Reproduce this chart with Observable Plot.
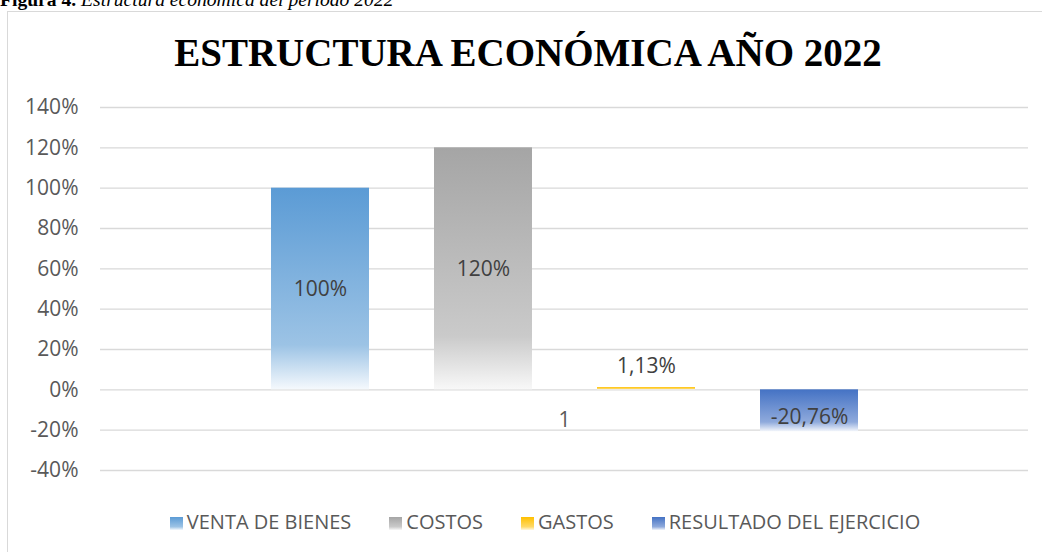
<!DOCTYPE html>
<html>
<head>
<meta charset="utf-8">
<script src="https://cdn.jsdelivr.net/npm/d3@7"></script>
<script src="https://cdn.jsdelivr.net/npm/@observablehq/plot@0.6"></script>
<style>
  html, body { margin: 0; padding: 0; background: #fff; width: 1042px; height: 552px; overflow: hidden; }
  #wrap { position: relative; width: 1042px; height: 552px; overflow: hidden; }
  #frame { position: absolute; left: 7px; top: 11px; width: 1100px; height: 600px; border: 1px solid #d9d9d9; box-sizing: border-box; }
  #caption { position: absolute; left: 0; top: -11px; font-family: "Liberation Serif", "Times New Roman", serif; font-size: 19.6px; line-height: 22px; white-space: nowrap; color: #000; }
  #title { position: absolute; left: 0; width: 1056px; top: 33px; text-align: center; font-family: "Liberation Serif", "Times New Roman", serif; font-weight: bold; font-size: 39px; line-height: 39px; color: #000; white-space: nowrap; }
  #chart { position: absolute; left: 0; top: 0; }
  #legend { position: absolute; left: 0; width: 1090px; top: 512px; display: flex; justify-content: center; gap: 38px; font-family: "Open Sans", sans-serif; font-size: 20px; line-height: 20px; color: #595959; white-space: nowrap; }
  .item { display: flex; align-items: center; }
  .sw { width: 13px; height: 13px; margin-right: 4px; margin-top: 2px; }
</style>
</head>
<body>
<div id="wrap">
  <div id="frame"></div>
  <div id="caption"><b>Figura 4.</b> <i>Estructura económica del periodo 2022</i></div>
  <div id="chart"></div>
  <div id="title"></div>
  <div id="legend"></div>
</div>
<script>
// ---- data ----
const chartTitle = "ESTRUCTURA ECONÓMICA AÑO 2022";
const series = ["VENTA DE BIENES", "COSTOS", "GASTOS", "RESULTADO DEL EJERCICIO"];
const values = [100, 120, 1.13, -20.76];
const categories = ["1"];
const yTicks = [-40, -20, 0, 20, 40, 60, 80, 100, 120, 140];

// ---- styles (gradient colours per series) ----
const gradTop = ["#5b9bd5", "#a5a5a5", "#ffc000", "#4472c4"];
const gradMid = ["#9cc3e5", "#cacaca", "#ffd966", "#8faadc"];
const gradEnd = ["#f5f9fd", "#f8f8f8", "#fff8e1", "#f2f5fb"];

const data = series.map((s, i) => ({s, v: values[i]}));
const gradIds = series.map((_, i) => "grad" + i);

const fmtLabel = v => (Number.isInteger(v) ? String(v) : v.toFixed(2).replace(".", ",")) + "%";
const fmtTick = d => String(d) + "%";

document.getElementById("title").textContent = chartTitle;

const plot = Plot.plot({
  width: 1042,
  height: 552,
  marginLeft: 100,
  marginRight: 14,
  marginTop: 107,
  marginBottom: 82,
  style: {fontFamily: "Open Sans, sans-serif", fontSize: "21px", color: "#595959", background: "transparent"},
  x: {domain: series, paddingInner: 0.4, paddingOuter: 1.04, axis: null, label: null},
  y: {domain: [-40, 140], label: null},
  color: {domain: series, range: gradIds.map(id => `url(#${id})`)},
  marks: [
    Plot.ruleY(yTicks, {stroke: "#d9d9d9", strokeWidth: 1.3}),
    Plot.axisY({ticks: yTicks, tickSize: 0, tickPadding: 22, tickFormat: fmtTick, fontSize: 21, label: null}),
    Plot.barY(data, {x: "s", y: "v", fill: "s"}),
    Plot.text(data.filter(d => d.v >= 5), {x: "s", y: d => d.v / 2, text: d => fmtLabel(d.v), fill: "#404040", fontSize: 21}),
    Plot.text(data.filter(d => d.v >= 0 && d.v < 5), {x: "s", y: "v", dy: -21, text: d => fmtLabel(d.v), fill: "#404040", fontSize: 21}),
    Plot.text(data.filter(d => d.v < 0), {x: "s", y: "v", dy: -14, text: d => fmtLabel(d.v), fill: "#404040", fontSize: 21}),
    Plot.text(categories, {y: () => 0, dy: 30, text: d => d, fill: "#595959", fontSize: 21})
  ]
});

// gradient definitions
const defs = d3.select(plot).insert("defs", ":first-child");
gradIds.forEach((id, i) => {
  const g = defs.append("linearGradient").attr("id", id).attr("x1", 0).attr("y1", 0).attr("x2", 0).attr("y2", 1);
  g.append("stop").attr("offset", "0").attr("stop-color", gradTop[i]);
  g.append("stop").attr("offset", "0.78").attr("stop-color", gradMid[i]);
  g.append("stop").attr("offset", "1").attr("stop-color", gradEnd[i]);
});

document.getElementById("chart").appendChild(plot);

// legend
const legend = d3.select("#legend");
series.forEach((s, i) => {
  const it = legend.append("div").attr("class", "item");
  it.append("div").attr("class", "sw")
    .style("background", `linear-gradient(to bottom, ${gradTop[i]} 0%, ${gradMid[i]} 75%, ${gradEnd[i]} 100%)`);
  it.append("span").text(s);
});
</script>
</body>
</html>
